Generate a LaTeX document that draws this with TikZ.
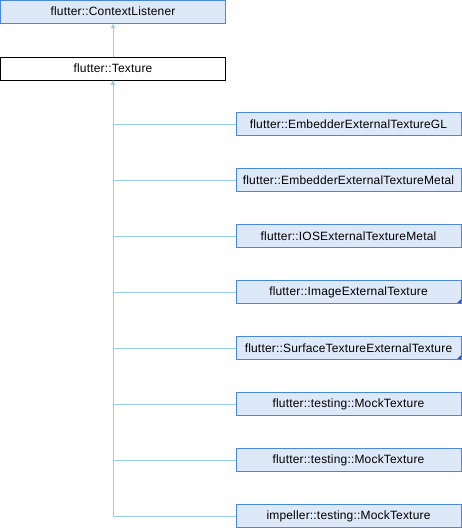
\documentclass[tikz,border=0pt]{standalone}
\usepackage{fontspec}
\setmainfont[LetterSpace=1.5]{Liberation Sans}
\usetikzlibrary{arrows.meta}
\definecolor{boxfill}{RGB}{221,232,248}
\definecolor{boxline}{RGB}{74,134,218}
\definecolor{edge}{RGB}{150,204,236}
\definecolor{corner}{RGB}{40,90,190}
\tikzset{
  cls/.style={draw=boxline, fill=boxfill, line width=0.9pt, minimum width=225pt, minimum height=23pt, inner sep=0pt, font=\fontsize{12}{14}\selectfont},
  cur/.style={cls, draw=black, fill=white},
  inh/.style={draw=edge, line width=0.9pt, {Latex[length=4.5pt,width=4.5pt]}-},
  more/.style={path picture={\fill[corner] (path picture bounding box.south east) -- ++(-4.5pt,0) -- ++(4.5pt,4.5pt) -- cycle;}}
}
\begin{document}
\begin{tikzpicture}[x=1pt,y=-1pt]
\useasboundingbox (0,0) rectangle (462,528);
\node[cls] (ctx) at (113,11.5) {flutter::ContextListener};
\node[cur] (tex) at (113,68.5) {flutter::Texture};
\node[cls] (c1) at (348.5,124) {flutter::EmbedderExternalTextureGL};
\node[cls] (c2) at (348.5,180) {flutter::EmbedderExternalTextureMetal};
\node[cls] (c3) at (348.5,236) {flutter::IOSExternalTextureMetal};
\node[cls,more] (c4) at (348.5,292) {flutter::ImageExternalTexture};
\node[cls,more] (c5) at (348.5,348) {flutter::SurfaceTextureExternalTexture};
\node[cls] (c6) at (348.5,404) {flutter::testing::MockTexture};
\node[cls] (c7) at (348.5,460) {flutter::testing::MockTexture};
\node[cls] (c8) at (348.5,516) {impeller::testing::MockTexture};
\draw[inh] (ctx.south) -- (tex.north);
\foreach \c in {c1,c2,c3,c4,c5,c6,c7,c8}{
  \draw[inh] (tex.south) |- (\c.west);
}
\end{tikzpicture}
\end{document}
